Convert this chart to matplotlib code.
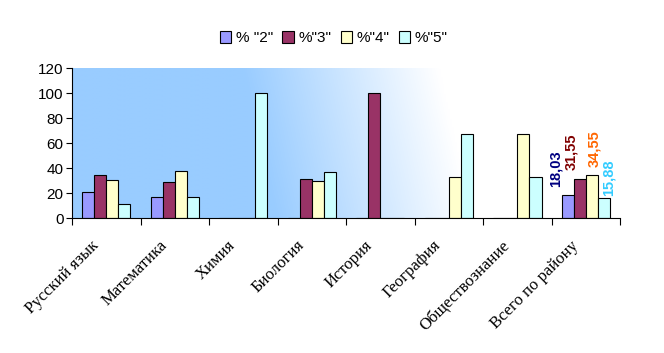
import numpy as np
import matplotlib
matplotlib.use('Agg')
import matplotlib.pyplot as plt
from matplotlib.colors import LinearSegmentedColormap

# ── Data ──────────────────────────────────────────────────────────────────────

subjects = ['Русский язык', 'Математика', 'Химия', 'Биология', 'История',
            'География', 'Обществознание', 'Всего по району']
series_names = ['% "2"', '%"3"', '%"4"', '%"5"']

pct_2 = [21, 17, 0, 0, 0, 0, 0, 18.03]
pct_3 = [34.5, 29, 0, 31, 100, 0, 0, 31.55]
pct_4 = [30.5, 38, 0, 30, 0, 33, 67, 34.55]
pct_5 = [11.5, 17, 100, 37, 0, 67, 33, 15.88]

total_labels = ['18,03', '31,55', '34,55', '15,88']

colors = ['#9999FF', '#993366', '#FFFFCC', '#CCFFFF']
label_colors = ['#000080', '#800000', '#FF6600', '#33CCFF']

# ── Figure ────────────────────────────────────────────────────────────────────

fig = plt.figure(figsize=(6.64, 3.53), dpi=100)
ax = fig.add_axes([0.1084, 0.3824, 0.8256, 0.4246])

# gradient background (blue on the left fading to white, slightly diagonal)
xs = np.linspace(0, 1, 300)
ys = np.linspace(0, 1, 60)
gx, gy = np.meshgrid(xs, ys)
grad = np.clip((gx - 0.34 + 0.06 * (gy - 0.5)) / 0.36, 0, 1)
cmap = LinearSegmentedColormap.from_list('bg', ['#99CCFF', '#FFFFFF'])
ax.imshow(grad, cmap=cmap, extent=[-0.5, 7.5, 0, 120], aspect='auto',
          origin='lower', zorder=0, interpolation='bilinear')

x = np.arange(len(subjects))
w = 0.176
all_series = [pct_2, pct_3, pct_4, pct_5]
for i, (vals, c, name) in enumerate(zip(all_series, colors, series_names)):
    ax.bar(x + (i - 1.5) * w, vals, width=w, color=c, edgecolor='black',
           linewidth=0.8, label=name, zorder=2)

# data labels on the district total group
last = len(subjects) - 1
dx = [-9, -6.5, 1.5, 3]
dy = [6, 6, 6, 1.5]
for i, vals in enumerate(all_series):
    ax.annotate(total_labels[i], (last + (i - 1.5) * w, vals[last]),
                xytext=(dx[i], dy[i]), textcoords='offset points',
                rotation=90, ha='center', va='bottom', fontsize=10.5,
                fontweight='bold', color=label_colors[i],
                family='Liberation Sans', zorder=3)

ax.set_xlim(-0.5, 7.5)
ax.set_ylim(0, 120)
ax.set_yticks(np.arange(0, 121, 20))
ax.tick_params(axis='y', labelsize=11, length=4, width=0.8, pad=2)
for t in ax.get_yticklabels():
    t.set_family('Liberation Sans')

# boundary ticks between categories, labels slightly left of centre
ax.set_xticks(np.arange(-0.5, 8, 1))
ax.set_xticklabels([])
ax.tick_params(axis='x', length=5, width=0.8)
ax.set_xticks(x - 0.23, minor=True)
ax.set_xticklabels(subjects, minor=True, rotation=45, ha='right',
                   rotation_mode='anchor', family='Liberation Serif',
                   fontsize=12)
ax.tick_params(axis='x', which='minor', length=0, pad=14)

for s in ['top', 'right']:
    ax.spines[s].set_visible(False)
for s in ['left', 'bottom']:
    ax.spines[s].set_linewidth(0.8)

leg = fig.legend(loc='upper center', bbox_to_anchor=(0.503, 0.95), ncol=4,
                 frameon=False, handlelength=0.75, handleheight=0.75,
                 handletextpad=0.3, columnspacing=0.6,
                 prop={'family': 'Liberation Sans', 'size': 11})

fig.savefig('out.png', dpi=100)
